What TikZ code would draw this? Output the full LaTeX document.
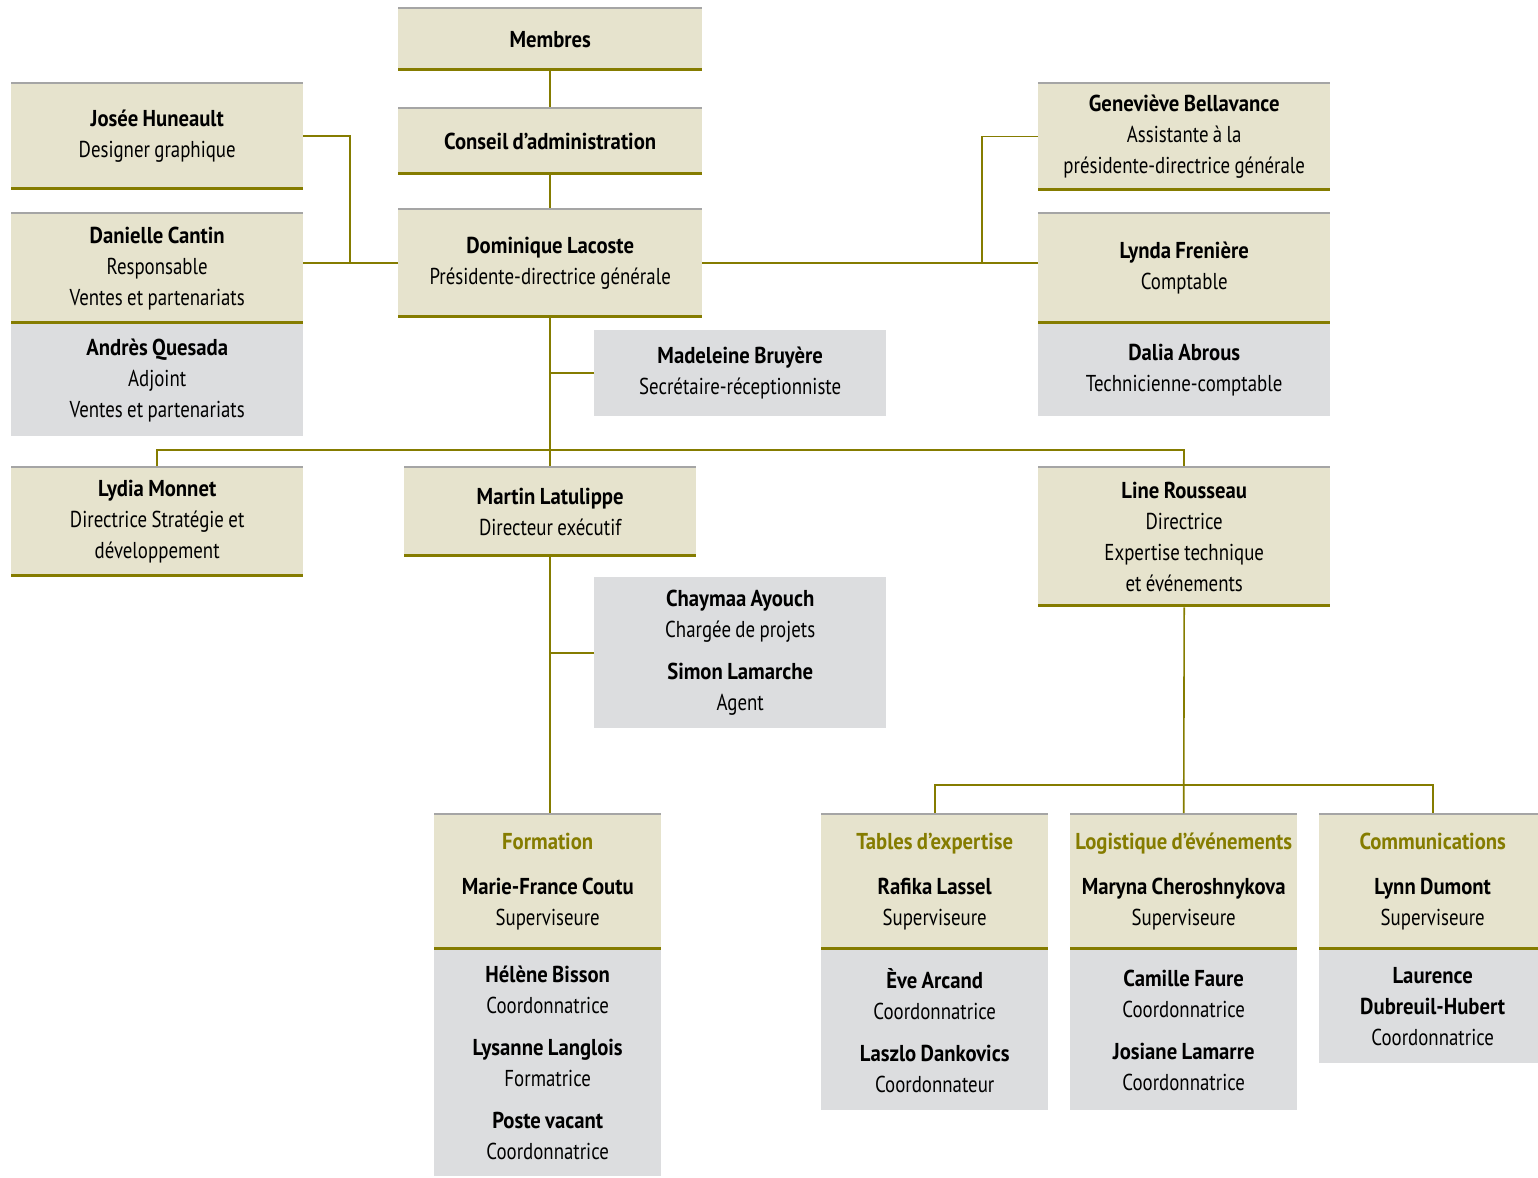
\documentclass[tikz,border=0pt]{standalone}
\usepackage{fontspec}
\setmainfont{PT Sans}[FakeStretch=0.82, BoldFeatures={FakeStretch=0.9}]
\usetikzlibrary{calc}
\definecolor{tanfill}{HTML}{E6E3CD}
\definecolor{greyfill}{HTML}{DCDDDF}
\definecolor{olivebar}{HTML}{857C00}
\definecolor{rulegrey}{HTML}{A5A5A5}
\newcommand\dept[1]{{\color{olivebar}\bfseries #1}}
\tikzset{
  box/.style={inner sep=0pt, anchor=north west, align=center, font=\fontsize{23}{31}\selectfont,
    execute at begin node={\spaceskip=0.19em\relax}},
  tanbox/.style={box, fill=tanfill, path picture={
    \fill[rulegrey] (path picture bounding box.north west) rectangle ([yshift=-2pt]path picture bounding box.north east);
    \fill[olivebar] (path picture bounding box.south west) rectangle ([yshift=3.5pt]path picture bounding box.south east);}},
  greybox/.style={box, fill=greyfill},
  boxw/.style={minimum width=#1pt, text width=#1pt},
  boxh/.style={minimum height=#1pt},
  link/.style={draw=olivebar, line width=1.6pt},
}
\begin{document}
\begin{tikzpicture}[x=1pt,y=-1pt]
\useasboundingbox (0,0) rectangle (1538,1177);
% top of the chart
\node[tanbox, boxw=304, boxh=64] (mem) at (398,7) {\textbf{Membres}};
\node[tanbox, boxw=304, boxh=68] (cons) at (398,107) {\textbf{Conseil d’administration}};
\node[tanbox, boxw=304, boxh=110] (dom) at (398,208) {\textbf{Dominique Lacoste}\\Présidente-directrice générale};
\draw[link] (mem) -- (cons);
\draw[link] (cons) -- (dom);

% left staff
\node[tanbox, boxw=292, boxh=108] (jos) at (11,82) {\textbf{Josée Huneault}\\Designer graphique};
\node[tanbox, boxw=292, boxh=112] (dan) at (11,212) {\textbf{Danielle Cantin}\\Responsable\\Ventes et partenariats};
\node[greybox, boxw=292, boxh=112] (andr) at (11,324) {\textbf{Andrès Quesada}\\Adjoint\\Ventes et partenariats};
\coordinate (lj) at (350,263);
\draw[link] (dom.west) -- (dom.west -| dan.east);
\draw[link] (jos.east) -| (lj);

% right staff
\node[tanbox, boxw=292, boxh=109] (gen) at (1038,82) {\textbf{Geneviève Bellavance}\\Assistante à la\\présidente-directrice générale};
\node[tanbox, boxw=292, boxh=112] (lyn) at (1038,212) {\textbf{Lynda Frenière}\\Comptable};
\node[greybox, boxw=292, boxh=92] (dal) at (1038,324) {\textbf{Dalia Abrous}\\Technicienne-comptable};
\coordinate (rj) at (982,263);
\draw[link] (dom.east) -- (dom.east -| lyn.west);
\draw[link] (gen.west) -| (rj);

\node[greybox, boxw=292, boxh=86] (mad) at (594,330) {\textbf{Madeleine Bruyère}\\Secrétaire-réceptionniste};
\draw[link] (mad.west) -- (mad.west -| dom.south);

% directors
\node[tanbox, boxw=292, boxh=111] (lyd) at (11,466) {\textbf{Lydia Monnet}\\Directrice Stratégie et\\développement};
\node[tanbox, boxw=292, boxh=91] (mar) at (404,466) {\textbf{Martin Latulippe}\\Directeur exécutif};
\node[tanbox, boxw=292, boxh=141] (lin) at (1038,466) {\textbf{Line Rousseau}\\Directrice\\Expertise technique\\et événements};
\coordinate (bus) at (550,450);
\draw[link] (dom) -- (mar);
\draw[link] (lyd.north) |- (bus) -| (lin.north);

\node[greybox, boxw=292, boxh=151] (cha) at (594,577) {\textbf{Chaymaa Ayouch}\\Chargée de projets\\[11pt]\textbf{Simon Lamarche}\\Agent};

% teams
\node[tanbox, boxw=227, boxh=137] (form) at (434,813) {\dept{Formation}\\[14pt]\textbf{Marie-France Coutu}\\Superviseure};
\node[greybox, boxw=227, boxh=226] (formg) at (434,950) {\textbf{Hélène Bisson}\\Coordonnatrice\\[11pt]\textbf{Lysanne Langlois}\\Formatrice\\[11pt]\textbf{Poste vacant}\\Coordonnatrice};
\draw[link] (mar.south) -- (mar.south |- form.north);
\draw[link] (cha.west) -- (cha.west -| mar.south);

\node[tanbox, boxw=227, boxh=137] (tab) at (821,813) {\dept{Tables d’expertise}\\[14pt]\textbf{Rafika Lassel}\\Superviseure};
\node[greybox, boxw=227, boxh=160] (tabg) at (821,950) {\textbf{Ève Arcand}\\Coordonnatrice\\[11pt]\textbf{Laszlo Dankovics}\\Coordonnateur};
\node[tanbox, boxw=227, boxh=137] (log) at (1070,813) {\dept{Logistique d’événements}\\[14pt]\textbf{Maryna Cheroshnykova}\\Superviseure};
\node[greybox, boxw=227, boxh=160] (logg) at (1070,950) {\textbf{Camille Faure}\\Coordonnatrice\\[11pt]\textbf{Josiane Lamarre}\\Coordonnatrice};
\node[tanbox, boxw=227, boxh=137] (com) at (1319,813) {\dept{Communications}\\[14pt]\textbf{Lynn Dumont}\\Superviseure};
\node[greybox, boxw=227, boxh=113] (comg) at (1319,950) {\textbf{Laurence}\\\textbf{Dubreuil-Hubert}\\Coordonnatrice};
\coordinate (tb) at (1184,785);
\draw[link] (lin.south) -- (log.north);
\draw[link] (tab.north) |- (tb) -| (com.north);

\end{tikzpicture}
\end{document}
